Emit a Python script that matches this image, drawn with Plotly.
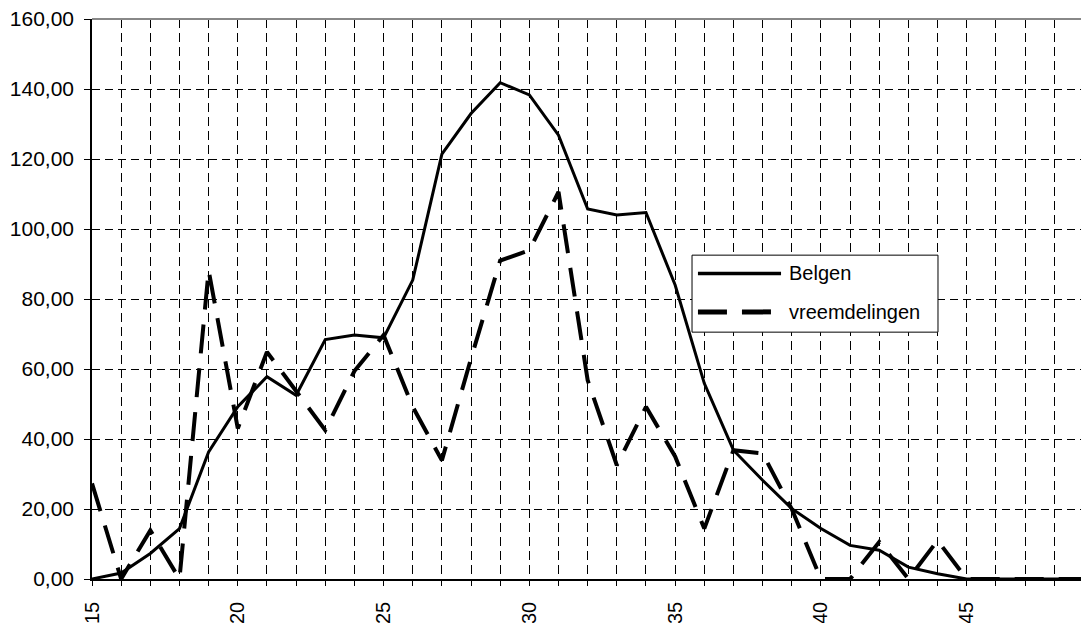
import plotly.graph_objects as go

ages = list(range(15, 50))
belgen = [0, 1.7, 7.3, 14.4, 36.3, 49.2, 57.8, 52.5, 68.4, 69.7, 68.9, 85.4, 121.4, 133.0,
          141.8, 138.3, 126.8, 105.7, 104.0, 104.7, 84.0, 55.9, 36.8, 28.2, 20.1, 14.4, 9.6,
          8.2, 3.4, 1.5, 0, 0, 0, 0, 0]
vreemdelingen = [27.3, 0, 13.9, 0, 88.2, 43.0, 64.9, 53.9, 42.5, 59.4, 69.7, 49.2, 33.9, 63.0,
                 91.0, 93.9, 110.6, 56.8, 32.5, 49.2, 35.0, 14.4, 36.8, 35.9, 20.0, 0, 0,
                 10.6, 0, 11.0, 0, 0, 0, 0, 0]
series_names = ["Belgen", "vreemdelingen"]
y_ticks = [0, 20, 40, 60, 80, 100, 120, 140, 160]
x_label_ages = [15, 20, 25, 30, 35, 40, 45]

FONT = "Liberation Sans, Arial, sans-serif"
DASH = "29px,15px"
GRID_DASH_V = "9px,5px"
GRID_DASH_H = "8px,5px"

fig = go.Figure()
fig.add_trace(go.Scatter(x=ages, y=belgen, mode="lines", name=series_names[0],
                         line=dict(color="black", width=3), showlegend=False))
fig.add_trace(go.Scatter(x=ages, y=vreemdelingen, mode="lines", name=series_names[1],
                         line=dict(color="black", width=4, dash=DASH), showlegend=False))

tick_vals = [a for a in ages if a <= 48]
tick_text = [str(a) if a in x_label_ages else "" for a in tick_vals]

fig.update_xaxes(range=[15, 48.92], tickmode="array", tickvals=tick_vals, ticktext=tick_text,
                 tickangle=-90, ticks="outside", ticklen=5, tickcolor="black",
                 showgrid=True, gridcolor="black", gridwidth=1, griddash=GRID_DASH_V,
                 showline=True, linecolor="black", linewidth=1.5, zeroline=False,
                 tickfont=dict(family=FONT, size=20, color="black"), ticklabelstandoff=8)
fig.update_yaxes(range=[0, 160], tickmode="array", tickvals=y_ticks,
                 ticktext=[f"{v:.2f}".replace(".", ",") for v in y_ticks],
                 ticks="outside", ticklen=6, tickcolor="black",
                 showgrid=True, gridcolor="black", gridwidth=1, griddash=GRID_DASH_H,
                 showline=True, linecolor="black", linewidth=1.5, zeroline=False,
                 tickfont=dict(family=FONT, size=21, color="black"), ticklabelstandoff=6)

# top border
fig.add_shape(type="line", xref="paper", yref="paper", x0=0, x1=1, y0=1, y1=1,
              line=dict(color="#888888", width=2))

# legend (manual, to match long line samples)
lx0, lx1, ly0, ly1 = 0.6067, 0.8554, 0.4408, 0.5783
fig.add_shape(type="rect", xref="paper", yref="paper", x0=lx0, x1=lx1, y0=ly0, y1=ly1,
              line=dict(color="black", width=1), fillcolor="white", layer="above")
rows = [(0.5457, dict(color="black", width=3.5)),
        (0.4770, dict(color="black", width=5, dash=DASH))]
for name, (yy, ln) in zip(series_names, rows):
    fig.add_shape(type="line", xref="paper", yref="paper", x0=0.6127, x1=0.6967,
                  y0=yy, y1=yy, line=ln, layer="above")
    fig.add_annotation(xref="paper", yref="paper", x=0.7027, y=yy, text=name,
                       showarrow=False, xanchor="left", yanchor="middle",
                       font=dict(family=FONT, size=20, color="black"))

fig.update_layout(width=1081, height=623, margin=dict(l=92, r=0, t=19, b=44),
                  plot_bgcolor="white", paper_bgcolor="white", showlegend=False,
                  font=dict(family=FONT, color="black"))

fig.write_html("out.html", config={"displayModeBar": False},
               post_script="document.body.style.margin='0';document.body.style.overflow='hidden';")
